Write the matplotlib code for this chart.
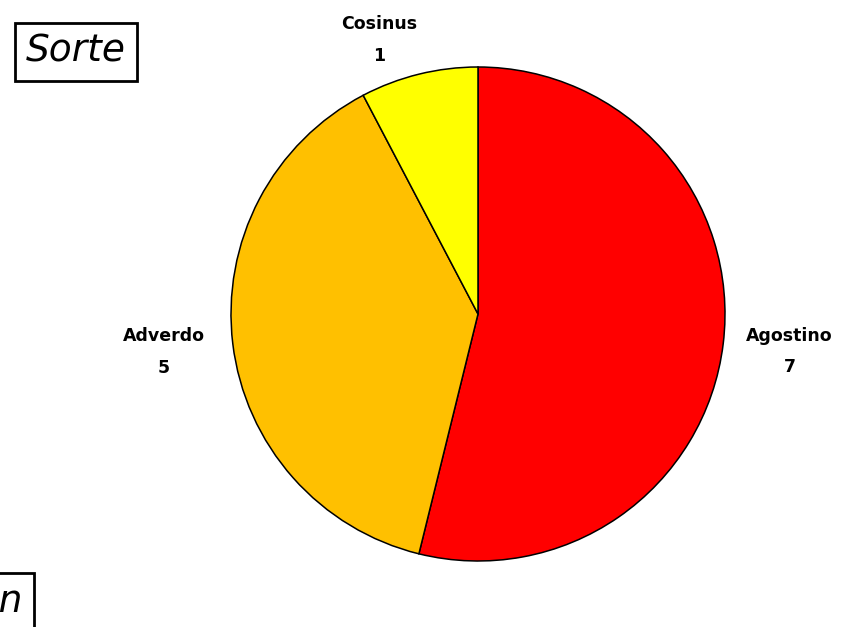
import numpy as np
import matplotlib.pyplot as plt

names = ['Agostino', 'Adverdo', 'Cosinus']
counts = [7, 5, 1]
colors = ['#FF0000', '#FFC000', '#FFFF00']

fig = plt.figure(figsize=(8.56, 6.27), dpi=100)
ax = fig.add_axes([0, 0, 1, 1])
ax.set_xlim(0, 856)
ax.set_ylim(0, 627)
ax.set_aspect('equal')
ax.axis('off')

radius = 247
cx, cy = 478, 313
wedges, _ = ax.pie(counts, colors=colors, startangle=90, counterclock=False,
                   center=(cx, cy), radius=radius,
                   wedgeprops=dict(edgecolor='black', linewidth=1.1))
ax.set_xlim(0, 856)
ax.set_ylim(0, 627)

# label distance / angle nudge, like Excel's outside-end placement
dist = [1.27, 1.28, 1.18]
nudge = [0, 0, 6]
for w, n, c, d, a in zip(wedges, names, counts, dist, nudge):
    ang = np.deg2rad((w.theta1 + w.theta2) / 2 + a)
    x = cx + d * radius * np.cos(ang)
    y = cy + d * radius * np.sin(ang)
    ax.text(x, y, f'{n}\n{c}', ha='center', va='center', fontsize=12.5,
            fontweight='bold', linespacing=1.95, family='DejaVu Sans')

ax.text(76, 575, 'Sorte', ha='center', va='center', fontsize=27,
        style='italic', family='DejaVu Sans',
        bbox=dict(boxstyle='square,pad=0.3', facecolor='white',
                  edgecolor='black', linewidth=2))
ax.text(23, 25, 'Namen', ha='right', va='center', fontsize=27,
        style='italic', family='DejaVu Sans',
        bbox=dict(boxstyle='square,pad=0.3', facecolor='white',
                  edgecolor='black', linewidth=2))

fig.savefig('out.png', dpi=100)
